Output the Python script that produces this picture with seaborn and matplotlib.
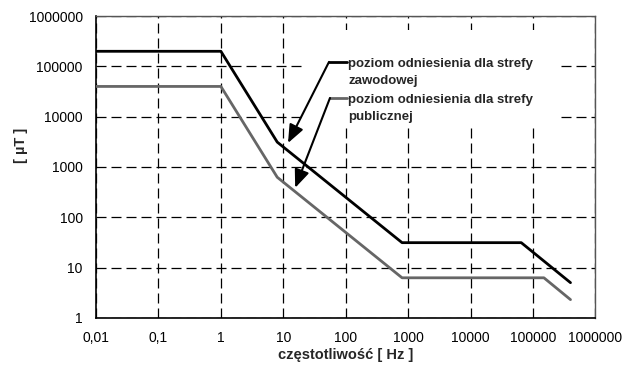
import pandas as pd
import matplotlib
matplotlib.use('Agg')
import matplotlib.pyplot as plt
import seaborn as sns
from matplotlib.patches import Rectangle
from matplotlib.ticker import FixedLocator, FixedFormatter, NullLocator

# dane
f_zaw = [0.01, 1, 8, 800, 65000, 400000]
b_zaw = [200000, 200000, 3125, 31.25, 31.25, 5]
f_pub = [0.01, 1, 8, 800, 150000, 400000]
b_pub = [40000, 40000, 625, 6.25, 6.25, 2.3]

x_ticks = [0.01, 0.1, 1, 10, 100, 1000, 10000, 100000, 1000000]
x_labels = ['0,01', '0,1', '1', '10', '100', '1000', '10000', '100000', '1000000']
y_ticks = [1, 10, 100, 1000, 10000, 100000, 1000000]
y_labels = ['1', '10', '100', '1000', '10000', '100000', '1000000']

lab_zaw = 'poziom odniesienia dla strefy\nzawodowej'
lab_pub = 'poziom odniesienia dla strefy\npublicznej'

df = pd.concat([
    pd.DataFrame({'f': f_zaw, 'B': b_zaw, 'strefa': 'zawodowa'}),
    pd.DataFrame({'f': f_pub, 'B': b_pub, 'strefa': 'publiczna'}),
])

sns.set_style('white')
plt.rcParams['font.family'] = ['Liberation Sans', 'DejaVu Sans']

fig = plt.figure(figsize=(6.32, 3.67), dpi=100)
ax = fig.add_axes([0.152, 0.134, 0.790, 0.822])
ax.set_axisbelow(True)

sns.lineplot(data=df, x='f', y='B', hue='strefa', palette={'zawodowa': 'black', 'publiczna': '#666666'},
             linewidth=2, legend=False, ax=ax, sort=False, zorder=3)

ax.set_xscale('log')
ax.set_yscale('log')
ax.set_xlim(0.01, 1000000)
ax.set_ylim(1, 1000000)
ax.xaxis.set_major_locator(FixedLocator(x_ticks))
ax.xaxis.set_major_formatter(FixedFormatter(x_labels))
ax.xaxis.set_minor_locator(NullLocator())
ax.yaxis.set_major_locator(FixedLocator(y_ticks))
ax.yaxis.set_major_formatter(FixedFormatter(y_labels))
ax.yaxis.set_minor_locator(NullLocator())

ax.grid(True, which='major', color='black', linestyle=(0, (8, 4)), linewidth=0.9)
ax.tick_params(direction='inout', length=7, width=1, labelsize=10, colors='black', pad=6)

for s in ['left', 'bottom']:
    ax.spines[s].set_color('black')
    ax.spines[s].set_linewidth(1.2)
for s in ['top', 'right']:
    ax.spines[s].set_color('#555555')
    ax.spines[s].set_linewidth(1)

ax.set_xlabel('częstotliwość [ Hz ]', fontsize=10.5, fontweight='bold', labelpad=2)
ax.set_ylabel('[ µT ]', fontsize=10.5, fontweight='bold')
ax.yaxis.set_label_coords(-0.136, 0.573)

# biale tlo pod opisami
ax.add_patch(Rectangle((0.419, 0.639), 0.505, 0.315, transform=ax.transAxes,
                       facecolor='white', edgecolor='none', zorder=1))

# opisy ze strzalkami
arrow = dict(arrowstyle='-|>,head_length=1.1,head_width=0.45', lw=1.5, shrinkA=0, shrinkB=0)

ax.plot([54, 105], [123000, 123000], color='black', linewidth=2, zorder=4)
ax.annotate('', xy=(11.9, 3000), xytext=(54, 123000), arrowprops=dict(arrow, color='black'), zorder=4)
ax.text(110, 148000, lab_zaw, fontsize=9.5, fontweight='bold', va='top', ha='left',
        linespacing=1.6, zorder=5)

ax.plot([56, 105], [23600, 23600], color='#666666', linewidth=2, zorder=4)
ax.annotate('', xy=(15.5, 385), xytext=(56, 23600), arrowprops=dict(arrow, color='black'), zorder=4)
ax.text(110, 28300, lab_pub, fontsize=9.5, fontweight='bold', va='top', ha='left',
        linespacing=1.6, zorder=5)

plt.savefig('out.png', dpi=100)
